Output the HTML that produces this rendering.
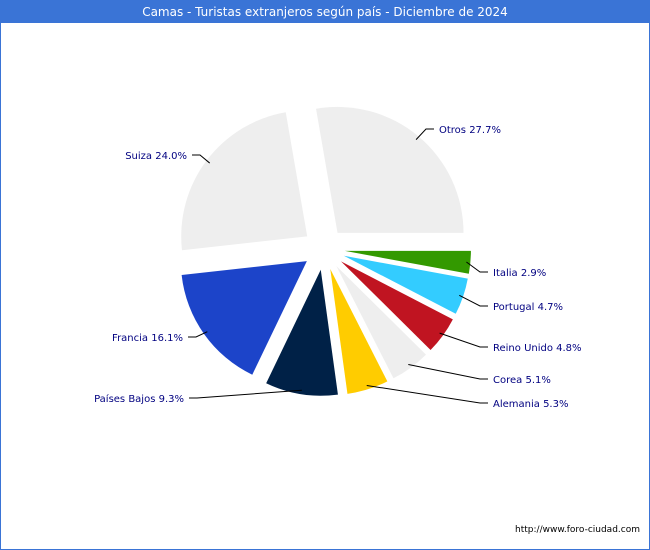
<!DOCTYPE html>
<html><head><meta charset="utf-8"><style>
body{margin:0;background:#fff;font-family:"DejaVu Sans","Liberation Sans",sans-serif}
#wrap{position:relative;width:648px;height:548px;border:1px solid #3a74d6;background:#fff}
#title{position:absolute;left:0;top:0;width:648px;height:22px;background:#3a74d6;color:#fff;font-size:12px;line-height:23px;text-align:center}
svg{position:absolute;left:-1px;top:-1px}
</style></head><body>
<div id="wrap">
<div id="title">Camas - Turistas extranjeros según país - Diciembre de 2024</div>
<svg id="chart" width="650" height="550">
<text x="640" y="532" font-size="9" text-anchor="end" fill="#000" font-family="DejaVu Sans, sans-serif">http://www.foro-ciudad.com</text>
</svg>
</div>
<script>
const categories=["Otros","Suiza","Francia","Países Bajos","Alemania","Corea","Reino Unido","Portugal","Italia"];
const values=[27.7,24.0,16.1,9.3,5.3,5.1,4.8,4.7,2.9];
const colors=["#eeeeee","#eeeeee","#1c44c9","#002147","#ffcc00","#eeeeee","#c01421","#33ccff","#339900"];
// label anchor positions (layout, not data)
const labelPos=[[439,133,"start"],[187,159,"end"],[183,341,"end"],[184,402,"end"],[493,407,"start"],[493,383,"start"],[493,351,"start"],[493,310,"start"],[493,276,"start"]];
const NS="http://www.w3.org/2000/svg";
const svg=document.getElementById('chart');
const cx=324,cy=249,R=126,EX=21;
const total=values.reduce((a,b)=>a+b,0);
function pt(x0,y0,r,a){return [x0+r*Math.cos(a),y0-r*Math.sin(a)];}
let start=0;
values.forEach((v,i)=>{
  const sweep=v/total*2*Math.PI, end=start+sweep, mid=start+sweep/2;
  const ox=cx+EX*Math.cos(mid), oy=cy-EX*Math.sin(mid);
  const p1=pt(ox,oy,R,start), p2=pt(ox,oy,R,end);
  const large=sweep>Math.PI?1:0;
  const path=document.createElementNS(NS,'path');
  path.setAttribute('d',`M${ox},${oy} L${p1[0]},${p1[1]} A${R},${R} 0 ${large} 0 ${p2[0]},${p2[1]} Z`);
  path.setAttribute('fill',colors[i]);
  
  
  svg.appendChild(path);
  const lp=labelPos[i];
  const a=pt(ox,oy,R-4,mid);
  const ex=lp[2]==="start"?lp[0]-5:lp[0]+5, ey=lp[1]-4;
  const kx=lp[2]==="start"?ex-8:ex+8;
  const line=document.createElementNS(NS,'polyline');
  line.setAttribute('points',`${a[0]},${a[1]} ${kx},${ey} ${ex},${ey}`);
  line.setAttribute('fill','none');line.setAttribute('stroke','#000');line.setAttribute('stroke-width','1');
  
  
  svg.appendChild(line);
  const t=document.createElementNS(NS,'text');
  t.setAttribute('x',lp[0]);t.setAttribute('y',lp[1]);
  t.setAttribute('text-anchor',lp[2]);t.setAttribute('font-size','10');t.setAttribute('fill','#000080');
  t.setAttribute('font-family','DejaVu Sans, sans-serif');
  t.textContent=categories[i]+' '+v.toFixed(1)+'%';
  
  
  svg.appendChild(t);
  start=end;
});
</script>
</body></html>
